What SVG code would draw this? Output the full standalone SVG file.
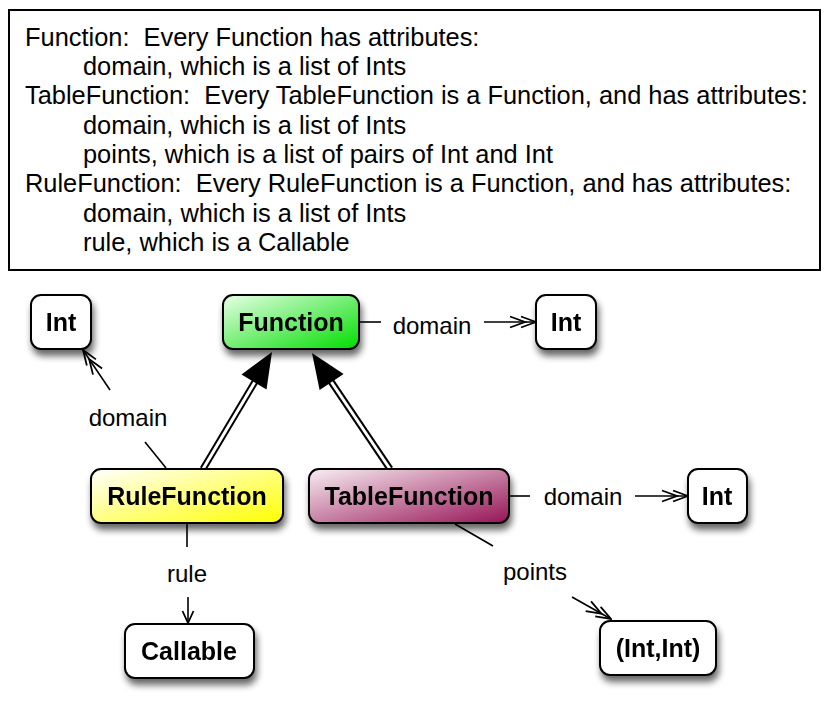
<svg xmlns="http://www.w3.org/2000/svg" width="830" height="701" viewBox="0 0 830 701">
<style>
.desc{font-family:"Liberation Sans",Arial,sans-serif;font-size:25.4px;fill:#000;white-space:pre}
.lbl{font-family:"Liberation Sans",Arial,sans-serif;font-size:24px;fill:#000;text-anchor:middle}
.nt{font-family:"Liberation Sans",Arial,sans-serif;font-size:25px;font-weight:bold;fill:#000;text-anchor:middle}
.box{stroke:#000;stroke-width:2}
.ln{stroke:#000;stroke-width:1.6;fill:none}
.gen-o{stroke:#000;stroke-width:7;fill:none}
.gen-i{stroke:#fff;stroke-width:3;fill:none}
</style>
<defs>
<filter id="sh" x="-30%" y="-30%" width="160%" height="180%">
<feGaussianBlur in="SourceAlpha" stdDeviation="3.5"/>
<feOffset dx="2" dy="6" result="b"/>
<feComponentTransfer><feFuncA type="linear" slope="0.6"/></feComponentTransfer>
<feMerge><feMergeNode/><feMergeNode in="SourceGraphic"/></feMerge>
</filter>
<linearGradient id="gGreen" x1="0" y1="0" x2="1" y2="1">
<stop offset="0" stop-color="#e8ffe8"/><stop offset="1" stop-color="#00dd00"/>
</linearGradient>
<linearGradient id="gYellow" x1="0" y1="0" x2="1" y2="1">
<stop offset="0" stop-color="#ffffff"/><stop offset="1" stop-color="#ffff00"/>
</linearGradient>
<linearGradient id="gPink" x1="0" y1="0" x2="1" y2="1">
<stop offset="0" stop-color="#f8eef3"/><stop offset="1" stop-color="#961456"/>
</linearGradient>
<marker id="dbl" viewBox="0 0 30 14" refX="29" refY="7" markerWidth="30" markerHeight="14" markerUnits="userSpaceOnUse" orient="auto">
<path d="M14,1.5 L29,7 L14,12.5 M3,1.5 L18,7 L3,12.5" fill="none" stroke="#000" stroke-width="1.8"/>
</marker>
<marker id="sgl" viewBox="0 0 30 14" refX="29" refY="7" markerWidth="30" markerHeight="14" markerUnits="userSpaceOnUse" orient="auto">
<path d="M17,1.5 L29,7 L17,12.5" fill="none" stroke="#000" stroke-width="1.8"/>
</marker>
</defs>
<rect width="830" height="701" fill="#fff"/>

<g id="description">
<rect x="9" y="10" width="811" height="260" fill="#fff" stroke="#000" stroke-width="2"/>
<text class="desc" x="25" y="46" xml:space="preserve">Function:  Every Function has attributes:</text>
<text class="desc" x="83" y="75">domain, which is a list of Ints</text>
<text class="desc" x="25" y="104" xml:space="preserve">TableFunction:  Every TableFunction is a Function, and has attributes:</text>
<text class="desc" x="83" y="134">domain, which is a list of Ints</text>
<text class="desc" x="83" y="163">points, which is a list of pairs of Int and Int</text>
<text class="desc" x="25" y="192" xml:space="preserve">RuleFunction:  Every RuleFunction is a Function, and has attributes:</text>
<text class="desc" x="83" y="222">domain, which is a list of Ints</text>
<text class="desc" x="83" y="251">rule, which is a Callable</text>
</g>

<g id="connectors">
<line class="ln" x1="359" y1="322" x2="381" y2="322"/>
<text class="lbl" x="432" y="334">domain</text>
<line class="ln" x1="484" y1="322" x2="536" y2="322" marker-end="url(#dbl)"/>

<line class="ln" x1="166" y1="468" x2="145" y2="442"/>
<text class="lbl" x="128" y="426">domain</text>
<line class="ln" x1="110" y1="390" x2="83" y2="350" marker-end="url(#dbl)"/>

<line class="ln" x1="510" y1="496" x2="530" y2="496"/>
<text class="lbl" x="583" y="505">domain</text>
<line class="ln" x1="635" y1="496" x2="688" y2="496" marker-end="url(#dbl)"/>

<line class="ln" x1="187" y1="523" x2="187" y2="547"/>
<text class="lbl" x="187" y="582">rule</text>
<line class="ln" x1="188" y1="597" x2="188" y2="623" marker-end="url(#sgl)"/>

<line class="ln" x1="455" y1="524" x2="493" y2="546"/>
<text class="lbl" x="535" y="580">points</text>
<line class="ln" x1="572" y1="597" x2="611" y2="619" marker-end="url(#dbl)"/>

<line class="gen-o" x1="203" y1="469" x2="256" y2="380"/>
<line class="gen-i" x1="203" y1="469" x2="256" y2="380"/>
<polygon points="272,352 266.5,389.4 241.5,374.6" fill="#000"/>

<line class="gen-o" x1="390" y1="469" x2="330" y2="380"/>
<line class="gen-i" x1="390" y1="469" x2="330" y2="380"/>
<polygon points="312,353 343.6,373.9 319.6,390.1" fill="#000"/>
</g>

<g id="node-int-left" filter="url(#sh)">
<rect class="box" x="31" y="295" width="60" height="54" rx="10" fill="#fff"/>
<text class="nt" x="61" y="331">Int</text>
</g>
<g id="node-function" filter="url(#sh)">
<rect class="box" x="223" y="295" width="136" height="54" rx="10" fill="url(#gGreen)"/>
<text class="nt" x="291" y="331">Function</text>
</g>
<g id="node-int-top" filter="url(#sh)">
<rect class="box" x="536" y="295" width="60" height="54" rx="10" fill="#fff"/>
<text class="nt" x="566" y="331">Int</text>
</g>
<g id="node-rulefunction" filter="url(#sh)">
<rect class="box" x="91" y="469" width="192" height="54" rx="10" fill="url(#gYellow)"/>
<text class="nt" x="187" y="505">RuleFunction</text>
</g>
<g id="node-tablefunction" filter="url(#sh)">
<rect class="box" x="309" y="469" width="200" height="54" rx="10" fill="url(#gPink)"/>
<text class="nt" x="409" y="505">TableFunction</text>
</g>
<g id="node-int-right" filter="url(#sh)">
<rect class="box" x="688" y="469" width="59" height="54" rx="10" fill="#fff"/>
<text class="nt" x="717" y="505">Int</text>
</g>
<g id="node-callable" filter="url(#sh)">
<rect class="box" x="125" y="624" width="129" height="54" rx="10" fill="#fff"/>
<text class="nt" x="189" y="660">Callable</text>
</g>
<g id="node-intint" filter="url(#sh)">
<rect class="box" x="600" y="621" width="116" height="54" rx="10" fill="#fff"/>
<text class="nt" x="658" y="657">(Int,Int)</text>
</g>
</svg>
